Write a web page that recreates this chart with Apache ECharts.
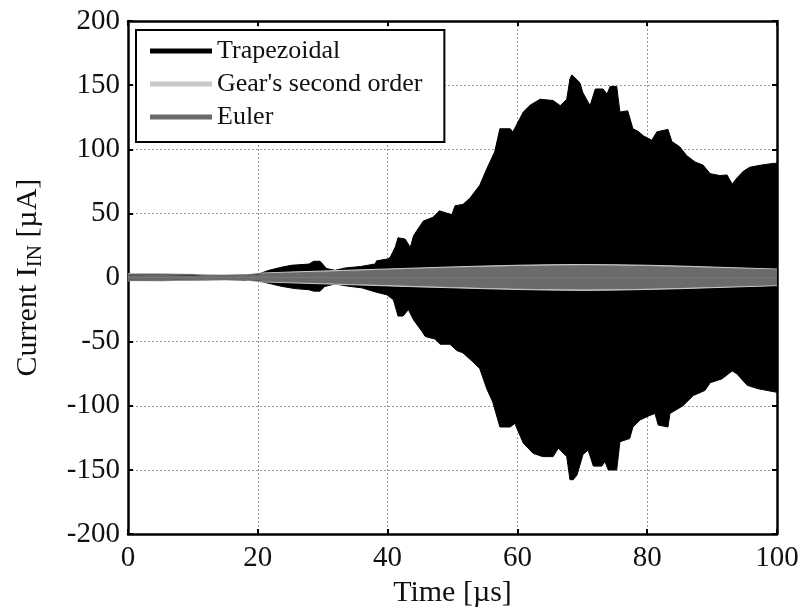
<!DOCTYPE html>
<html>
<head>
<meta charset="utf-8">
<script src="https://cdn.jsdelivr.net/npm/echarts@6/dist/echarts.min.js"></script>
<style>html,body{margin:0;padding:0;background:#fff;}#c{width:802px;height:613px;}</style>
</head>
<body>
<div id="c"></div>
<script>
// X tick values / Y tick range
var xTicks = [0, 20, 40, 60, 80, 100];
var yTicks = [-200, -150, -100, -50, 0, 50, 100, 150, 200];

// Trapezoidal envelope (time in µs, current in µA)
var trapUpperT = [0, 5, 10, 15, 20, 21.7, 23.6, 25.2, 27.9, 28.6, 29.6, 30.6, 31.9, 33.5, 35.8, 38.1, 38.3, 40, 40.4, 41.2, 41.6, 42.7, 43.5, 44, 45.5, 47, 48, 49.9, 50.4, 51.6, 52.7, 54.2, 55.3, 56.5, 57.3, 58.9, 59.3, 60.9, 62, 63.5, 65.5, 66.6, 67.6, 68.1, 68.4, 69.6, 70.1, 71.2, 72, 73.2, 73.8, 74.3, 75.3, 75.8, 77, 77.8, 78.6, 79.4, 80.7, 81.5, 83.2, 83.8, 85, 86.1, 87.4, 88.6, 89.7, 91.2, 92.3, 93.1, 93.8, 94.8, 95.8, 97.4, 99.4, 100];
var trapUpperV = [2.2, 2.4, 2.0, 1.6, 2.5, 5.6, 8, 9.6, 10.5, 12.7, 12.7, 7, 5.6, 7.5, 8.6, 10.6, 13, 14.5, 15.8, 24, 31, 30, 23.5, 32.7, 44, 47, 52, 49, 56, 57, 62, 72, 85, 98, 116, 116, 113.5, 129, 134.5, 139, 138, 134, 139, 155, 158, 152, 144, 134, 147, 147, 143, 149, 149, 129, 130, 116, 114, 110.6, 107, 113.6, 115.5, 106, 102, 95, 90, 87.7, 81, 79.5, 80, 72.8, 77.5, 82.8, 86, 87.5, 89, 89];
var trapLowerT = [0, 5, 10, 15, 20, 21.7, 23.6, 25.7, 27.9, 28.6, 29.6, 30.3, 31.9, 34, 36, 38.1, 39.9, 40.9, 41.6, 42.4, 43.2, 44, 45.3, 45.8, 47.3, 48.1, 49.6, 50.7, 51.6, 53.2, 54.2, 55.3, 56.2, 57.3, 58.9, 59.6, 60.9, 62.4, 63.9, 65.5, 66.3, 67.6, 68.1, 68.6, 69.2, 70.1, 70.9, 71.7, 73, 73.5, 74, 75.3, 75.8, 77.3, 77.8, 78.9, 80.4, 81.2, 81.7, 83.2, 83.5, 85.5, 87.1, 88.9, 89.7, 91.5, 93.1, 93.8, 95.4, 97.1, 100];
var trapLowerV = [-2.2, -2.4, -2.0, -1.6, -2.5, -4.5, -6.8, -8.6, -9.5, -10.6, -10.6, -7, -5, -6.8, -8, -11.2, -13.5, -17.4, -30, -30, -25, -33, -42, -46, -48, -52, -52, -57, -58.7, -66, -71, -87, -97, -116.5, -116.5, -113.7, -129, -137, -139.6, -139.6, -133, -139.6, -157.6, -157.6, -153.8, -138, -134.5, -147, -147, -143.5, -150, -150, -128, -125.5, -116.5, -111, -107.5, -106, -115, -116.5, -106, -100, -92, -88, -82, -79, -72.8, -75, -84, -86.7, -89.5];

// Gear's second order envelope
var gearT = [0, 5, 10, 12, 18, 20, 25, 30, 35, 40, 45, 50, 55, 60, 65, 70, 75, 80, 85, 90, 95, 100];
var gearUpperV = [2.9, 2.9, 2.6, 1.9, 2.1, 3.4, 4.3, 5.1, 5.9, 6.7, 7.5, 8.3, 9.0, 9.6, 10.0, 10.2, 10.0, 9.6, 9.0, 8.2, 7.4, 6.6];
var gearLowerV = [-2.5, -2.5, -2.1, -1.7, -1.9, -3.2, -4.1, -4.9, -5.7, -6.5, -7.3, -8.0, -8.7, -9.3, -9.8, -10.0, -9.8, -9.3, -8.7, -7.9, -7.1, -6.3];

// Euler envelope
var eulerT = [0, 5, 10, 12, 18, 20, 25, 30, 35, 40, 45, 50, 55, 60, 65, 70, 75, 80, 85, 90, 95, 100];
var eulerUpperV = [2.6, 2.6, 2.3, 1.6, 1.8, 2.8, 3.5, 4.2, 5.0, 5.8, 6.6, 7.4, 8.0, 8.6, 9.0, 9.2, 9.0, 8.6, 8.0, 7.3, 6.6, 6.0];
var eulerLowerV = [-2.2, -2.2, -1.8, -1.4, -1.6, -2.6, -3.3, -4.0, -4.8, -5.5, -6.3, -7.0, -7.7, -8.3, -8.7, -8.9, -8.7, -8.3, -7.7, -7.0, -6.3, -5.6];

var seriesNames = ['Trapezoidal', "Gear's second order", 'Euler'];
var seriesColors = ['#000000', '#c8c8c8', '#6b6b6b'];

function pairs(t, v) { return t.map(function (x, i) { return [x, v[i]]; }); }

function band(name, color, t1, v1, t2, v2) {
  var base = {
    name: name, type: 'line', showSymbol: false, symbol: 'none', silent: true,
    color: color,
    lineStyle: { color: color, width: 1 },
    areaStyle: { color: color, opacity: 1, origin: 0 },
    animation: false
  };
  return [
    Object.assign({}, base, { data: pairs(t1, v1) }),
    Object.assign({}, base, { data: pairs(t2, v2) })
  ];
}

var series = []
  .concat(band(seriesNames[0], seriesColors[0], trapUpperT, trapUpperV, trapLowerT, trapLowerV))
  .concat(band(seriesNames[1], seriesColors[1], gearT, gearUpperV, gearT, gearLowerV))
  .concat(band(seriesNames[2], seriesColors[2], eulerT, eulerUpperV, eulerT, eulerLowerV));

var font = 'Liberation Serif';
var chart = echarts.init(document.getElementById('c'), null, { renderer: 'canvas' });

var axisLineStyle = { show: true, onZero: false, lineStyle: { color: '#000', width: 2.5 } };
var tickStyle = { show: true, inside: true, length: 5, lineStyle: { color: '#000', width: 2 } };
var gridLine = { show: true, lineStyle: { color: '#9a9a9a', type: [2, 2], width: 1 } };

chart.setOption({
  backgroundColor: '#fff',
  animation: false,
  grid: { left: 128, top: 21, width: 649, height: 519, containLabel: false },
  legend: {
    data: seriesNames,
    orient: 'vertical',
    left: 136, top: 30,
    padding: [8, 22, 12, 14],
    itemGap: 7,
    itemWidth: 62, itemHeight: 5,
    icon: 'rect',
    backgroundColor: '#fff',
    borderColor: '#000', borderWidth: 2,
    textStyle: { fontFamily: font, fontSize: 26, color: '#111', lineHeight: 26 },
    z: 10
  },
  xAxis: [{
    type: 'value', min: xTicks[0], max: xTicks[xTicks.length - 1], interval: 20,
    name: 'Time [µs]', nameLocation: 'middle', nameGap: 43,
    nameTextStyle: { fontFamily: font, fontSize: 30, color: '#111' },
    axisLine: axisLineStyle, axisTick: tickStyle, splitLine: gridLine,
    axisLabel: { fontFamily: font, fontSize: 29, color: '#111', margin: 10 }
  }, {
    type: 'value', position: 'top', min: xTicks[0], max: xTicks[xTicks.length - 1], interval: 20,
    axisLine: axisLineStyle, axisTick: tickStyle, splitLine: { show: false },
    axisLabel: { show: false }
  }],
  yAxis: [{
    type: 'value', min: yTicks[0], max: yTicks[yTicks.length - 1], interval: 50,
    name: 'Current I{sub|IN} [µA]', nameLocation: 'middle', nameGap: 82,
    nameTextStyle: { fontFamily: font, fontSize: 30, color: '#111',
      rich: { sub: { fontFamily: font, fontSize: 21, color: '#111', verticalAlign: 'bottom', padding: [14, 0, 0, 0] } } },
    axisLine: axisLineStyle, axisTick: tickStyle, splitLine: gridLine,
    axisLabel: { fontFamily: font, fontSize: 29, color: '#111', margin: 8 }
  }, {
    type: 'value', position: 'right', min: yTicks[0], max: yTicks[yTicks.length - 1], interval: 50,
    axisLine: axisLineStyle, axisTick: tickStyle, splitLine: { show: false },
    axisLabel: { show: false }
  }],
  series: series
});
</script>
</body>
</html>
